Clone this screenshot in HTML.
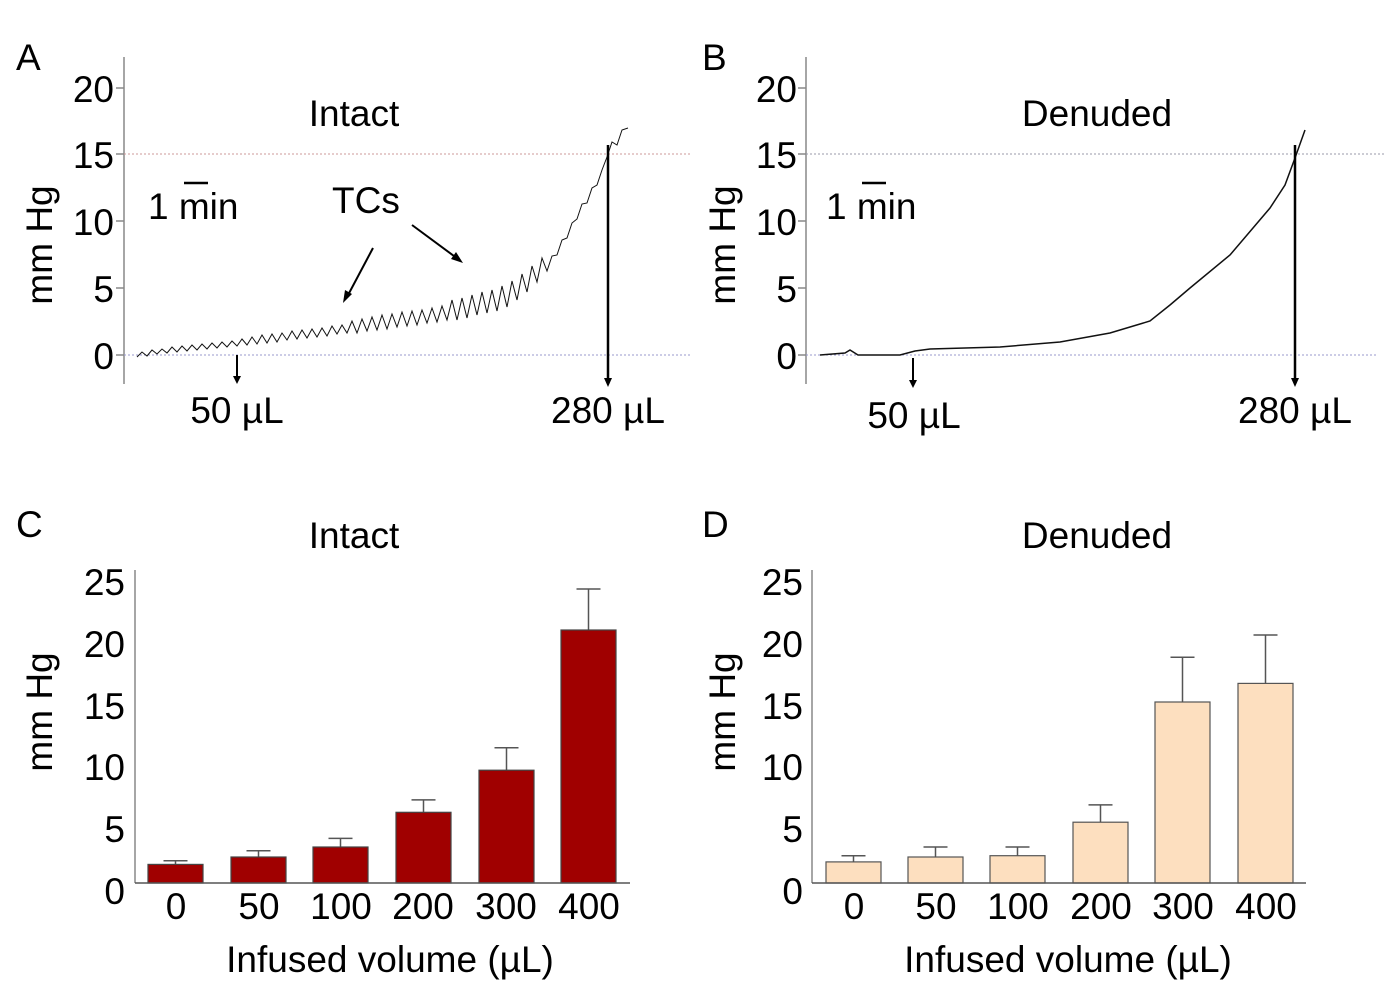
<!DOCTYPE html>
<html><head><meta charset="utf-8"><style>
html,body{margin:0;padding:0;background:#fff;}
svg{display:block;font-family:"Liberation Sans",sans-serif;}
</style></head><body>
<svg width="1400" height="993" viewBox="0 0 1400 993" xmlns="http://www.w3.org/2000/svg">
<g font-size="37" fill="#000">
<!-- Panel A -->
<text x="16" y="70">A</text>
<line x1="124" y1="57" x2="124" y2="384" stroke="#888" stroke-width="1.5"/>
<g stroke="#888" stroke-width="1.5"><line x1="116" y1="88" x2="124" y2="88"/><line x1="116" y1="154" x2="124" y2="154"/><line x1="116" y1="221" x2="124" y2="221"/><line x1="116" y1="288" x2="124" y2="288"/><line x1="116" y1="355" x2="124" y2="355"/></g>
<g text-anchor="end"><text x="114" y="102">20</text><text x="114" y="168">15</text><text x="114" y="235">10</text><text x="114" y="302">5</text><text x="114" y="369">0</text></g>
<text transform="translate(52,245) rotate(-90)" text-anchor="middle">mm Hg</text>
<line x1="124" y1="154" x2="692" y2="154" stroke="#c99" stroke-width="1" stroke-dasharray="2,2"/>
<line x1="124" y1="355" x2="692" y2="355" stroke="#99c" stroke-width="1" stroke-dasharray="2,2"/>
<text x="354" y="126" text-anchor="middle">Intact</text>
<text x="148" y="219">1 min</text><line x1="184" y1="183" x2="208" y2="183" stroke="#000" stroke-width="2.5"/>
<text x="332" y="213">TCs</text>
<line x1="373" y1="248" x2="347" y2="297" stroke="#000" stroke-width="2"/><path d="M343 303 L345 290 L352 294 Z"/>
<line x1="412" y1="225" x2="458" y2="259" stroke="#000" stroke-width="2"/><path d="M463 263 L451 259 L456 252 Z"/>
<polyline fill="none" stroke="#111" stroke-width="1" points="137,357 142,352 147,356 152,350 157,354 162,349 167,353 172,347 177,352 182,346 187,351 192,345 197,350 202,344 207,349 212,343 217,348 222,342 227,347 232,341 237,346 242,339 247,345 252,337 257,344 262,335 267,343 272,334 277,342 282,333 287,340 292,331 297,339 302,330 307,338 312,329 317,337 322,328 327,336 332,326 337,334 342,325 347,333 352,321 357,333 362,319 367,331 372,317 377,330 382,315 387,329 392,314 397,327 402,312 407,326 412,311 417,325 422,310 427,323 432,308 437,322 442,306 447,320 452,300 457,320 462,298 467,318 472,295 477,315 482,292 487,313 492,290 497,311 502,286 507,307 512,281 517,300 522,274 527,292 532,266 537,282 542,258 547,271 552,256 557,255 562,240 567,238 572,223 577,219 582,204 587,203 592,188 597,185 602,170 607,157 612,142 617,145 622,130 628,128"/>
<line x1="237" y1="355" x2="237" y2="378" stroke="#000" stroke-width="2"/><path d="M233 376 L241 376 L237 384 Z"/>
<line x1="608" y1="145" x2="608" y2="380" stroke="#000" stroke-width="2.5"/><path d="M604 378 L612 378 L608 387 Z"/>
<text x="237" y="423" text-anchor="middle">50 µL</text>
<text x="608" y="423" text-anchor="middle">280 µL</text>

<!-- Panel B -->
<text x="702" y="70">B</text>
<line x1="806" y1="57" x2="806" y2="384" stroke="#888" stroke-width="1.5"/>
<g stroke="#888" stroke-width="1.5"><line x1="798" y1="88" x2="806" y2="88"/><line x1="798" y1="154" x2="806" y2="154"/><line x1="798" y1="221" x2="806" y2="221"/><line x1="798" y1="288" x2="806" y2="288"/><line x1="798" y1="355" x2="806" y2="355"/></g>
<g text-anchor="end"><text x="797" y="102">20</text><text x="797" y="168">15</text><text x="797" y="235">10</text><text x="797" y="302">5</text><text x="797" y="369">0</text></g>
<text transform="translate(735,245) rotate(-90)" text-anchor="middle">mm Hg</text>
<line x1="806" y1="154" x2="1386" y2="154" stroke="#99a" stroke-width="1" stroke-dasharray="2,2"/>
<line x1="806" y1="355" x2="1376" y2="355" stroke="#99c" stroke-width="1" stroke-dasharray="2,2"/>
<text x="1097" y="126" text-anchor="middle">Denuded</text>
<text x="826" y="219">1 min</text><line x1="862" y1="183" x2="886" y2="183" stroke="#000" stroke-width="2.5"/>
<polyline fill="none" stroke="#111" stroke-width="1.5" points="820,355 845,353 850,350 858,355 900,355 915,351 930,349 1000,347 1060,342 1110,333 1150,321 1170,305 1190,288 1230,255 1270,208 1285,185 1295,158 1305,130"/>
<line x1="913" y1="358" x2="913" y2="382" stroke="#000" stroke-width="2"/><path d="M909 380 L917 380 L913 388 Z"/>
<line x1="1295" y1="145" x2="1295" y2="380" stroke="#000" stroke-width="2.5"/><path d="M1291 378 L1299 378 L1295 387 Z"/>
<text x="914" y="428" text-anchor="middle">50 µL</text>
<text x="1295" y="423" text-anchor="middle">280 µL</text>

<!-- Panel C -->
<text x="16" y="537">C</text>
<text x="354" y="548" text-anchor="middle">Intact</text>
<text transform="translate(52,712) rotate(-90)" text-anchor="middle">mm Hg</text>
<g stroke="#555" stroke-width="1.5">
<line x1="175.5" y1="860.7" x2="175.5" y2="864.4"/><line x1="163.5" y1="860.7" x2="187.5" y2="860.7"/>
<line x1="258.5" y1="850.8" x2="258.5" y2="857"/><line x1="246.5" y1="850.8" x2="270.5" y2="850.8"/>
<line x1="340.5" y1="838.4" x2="340.5" y2="847"/><line x1="328.5" y1="838.4" x2="352.5" y2="838.4"/>
<line x1="423.5" y1="799.9" x2="423.5" y2="812"/><line x1="411.5" y1="799.9" x2="435.5" y2="799.9"/>
<line x1="506.5" y1="747.8" x2="506.5" y2="770"/><line x1="494.5" y1="747.8" x2="518.5" y2="747.8"/>
<line x1="588.5" y1="589" x2="588.5" y2="630"/><line x1="576.5" y1="589" x2="600.5" y2="589"/>
</g>
<g fill="#a00000" stroke="#444" stroke-width="1.2">
<rect x="148" y="864.4" width="55" height="18.6"/>
<rect x="231" y="857" width="55" height="26"/>
<rect x="313" y="847" width="55" height="36"/>
<rect x="396" y="812.3" width="55" height="70.7"/>
<rect x="479" y="770.2" width="55" height="112.8"/>
<rect x="561" y="630" width="55" height="253"/>
</g>
<line x1="135" y1="570" x2="135" y2="883" stroke="#888" stroke-width="1.5"/>
<line x1="135" y1="883" x2="630" y2="883" stroke="#555" stroke-width="1.5"/>
<g text-anchor="end"><text x="125" y="595">25</text><text x="125" y="657">20</text><text x="125" y="719">15</text><text x="125" y="780">10</text><text x="125" y="842">5</text><text x="125" y="904">0</text></g>
<g text-anchor="middle"><text x="176" y="919">0</text><text x="259" y="919">50</text><text x="341" y="919">100</text><text x="423" y="919">200</text><text x="506" y="919">300</text><text x="589" y="919">400</text></g>
<text x="390" y="972" text-anchor="middle">Infused volume (µL)</text>

<!-- Panel D -->
<text x="702" y="537">D</text>
<text x="1097" y="548" text-anchor="middle">Denuded</text>
<text transform="translate(735,712) rotate(-90)" text-anchor="middle">mm Hg</text>
<g stroke="#555" stroke-width="1.5">
<line x1="853.5" y1="855.7" x2="853.5" y2="862"/><line x1="841.5" y1="855.7" x2="865.5" y2="855.7"/>
<line x1="935.5" y1="847" x2="935.5" y2="857"/><line x1="923.5" y1="847" x2="947.5" y2="847"/>
<line x1="1017.5" y1="847" x2="1017.5" y2="855.7"/><line x1="1005.5" y1="847" x2="1029.5" y2="847"/>
<line x1="1100.5" y1="804.9" x2="1100.5" y2="822"/><line x1="1088.5" y1="804.9" x2="1112.5" y2="804.9"/>
<line x1="1182.5" y1="657.3" x2="1182.5" y2="702"/><line x1="1170.5" y1="657.3" x2="1194.5" y2="657.3"/>
<line x1="1265.5" y1="635" x2="1265.5" y2="683.4"/><line x1="1253.5" y1="635" x2="1277.5" y2="635"/>
</g>
<g fill="#fddfbf" stroke="#555" stroke-width="1.2">
<rect x="826" y="861.9" width="55" height="21.1"/>
<rect x="908" y="857" width="55" height="26"/>
<rect x="990" y="855.7" width="55" height="27.3"/>
<rect x="1073" y="822.2" width="55" height="60.8"/>
<rect x="1155" y="702" width="55" height="181"/>
<rect x="1238" y="683.4" width="55" height="199.6"/>
</g>
<line x1="812" y1="570" x2="812" y2="883" stroke="#888" stroke-width="1.5"/>
<line x1="812" y1="883" x2="1306" y2="883" stroke="#555" stroke-width="1.5"/>
<g text-anchor="end"><text x="803" y="595">25</text><text x="803" y="657">20</text><text x="803" y="719">15</text><text x="803" y="780">10</text><text x="803" y="842">5</text><text x="803" y="904">0</text></g>
<g text-anchor="middle"><text x="854" y="919">0</text><text x="936" y="919">50</text><text x="1018" y="919">100</text><text x="1101" y="919">200</text><text x="1183" y="919">300</text><text x="1266" y="919">400</text></g>
<text x="1068" y="972" text-anchor="middle">Infused volume (µL)</text>
</g>
</svg>
</body></html>
